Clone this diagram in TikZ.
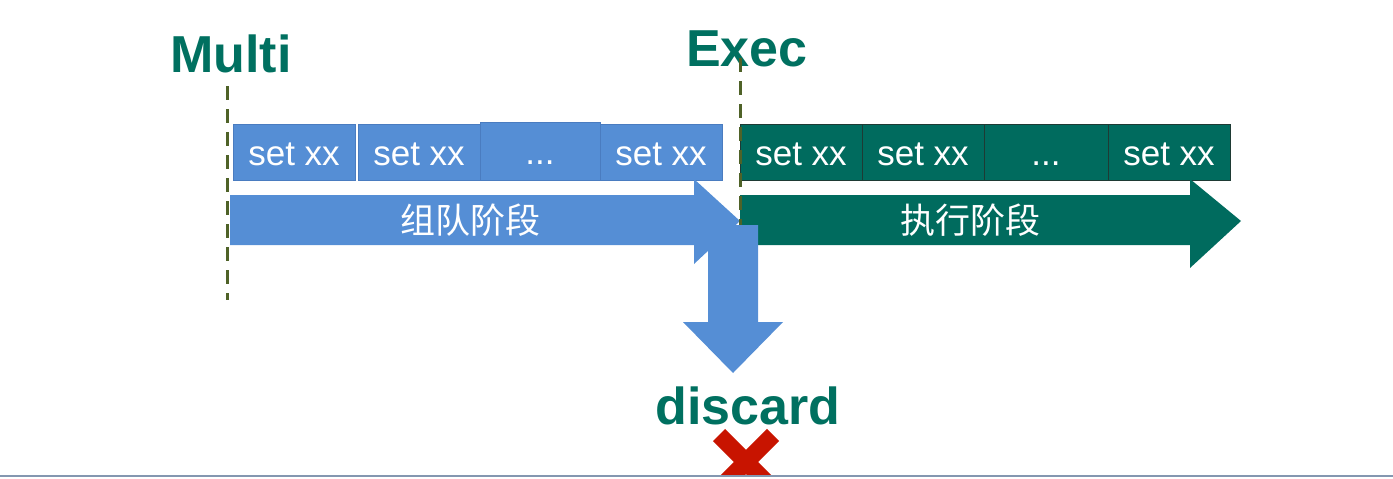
\documentclass[tikz,border=0pt]{standalone}
\usepackage{fontspec}
\setmainfont{Liberation Sans}
\newfontfamily\cjk{Noto Sans CJK SC}
\usepackage{tikz}
\usetikzlibrary{positioning}
\definecolor{qBlue}{HTML}{558ED5}
\definecolor{qEdge}{HTML}{4A7CC0}
\definecolor{run}{HTML}{006B5E}
\definecolor{runEdge}{HTML}{1E3A34}
\definecolor{title}{HTML}{007060}
\definecolor{mark}{HTML}{4F6228}
\definecolor{cross}{HTML}{C81400}
\definecolor{rule}{HTML}{8497B0}
\tikzset{queued/.style={draw=qEdge,fill=qBlue,line width=0.8pt,minimum width=122pt,minimum height=56pt,inner sep=0pt,
    text height=26pt,text depth=0pt,text=white,font=\fontsize{35}{35}\selectfont},
  running/.style={queued,draw=runEdge,fill=run},
  heading/.style={text=title,font=\fontsize{52}{52}\selectfont\bfseries,inner sep=0pt},
  phase/.style={text=white,font=\fontsize{35}{35}\selectfont\cjk,inner sep=0pt},
  border/.style={draw=mark,line width=3pt,dash pattern=on 14pt off 9pt}}

\begin{document}
\begin{tikzpicture}[x=1pt,y=-1pt]
  \useasboundingbox (0,0) rectangle (1393,479);
  \node[queued] (q1) at (294,152) {set xx};
  \node[queued] (q2) at (419,152) {set xx};
  \node[queued,minimum width=120pt,minimum height=58pt] (q3) at (540,151) {...};
  \node[queued] (q4) at (661,152.5) {set xx};
  \node[running] (r1) at (801,152) {set xx};
  \node[running] (r2) at (923,152) {set xx};
  \node[running,minimum width=124pt] (r3) at (1046,152) {...};
  \node[running] (r4) at (1169,152) {set xx};
  \fill[qBlue] (230,195)--(694,195)--(694,179)--(740,221)--(694,264)--(694,245)--(230,245)--cycle;
  \fill[run] (740,195)--(1190,195)--(1190,179)--(1241,221)--(1190,268)--(1190,245)--(740,245)--cycle;
  \node[phase] (queue) at (470,220) {组队阶段};
  \node[phase] (exec) at (970,220) {执行阶段};
  \node[heading,anchor=base west] (multi) at (170,72) {Multi};
  \node[heading,anchor=base west] (execw) at (686,66) {Exec};
  \draw[border] (227,86)--(227,300);
  \draw[border] (740,58)--(740,226);
  \fill[qBlue] (708,225)--(758,225)--(758,322)--(783,322)--(733,373)--(683,322)--(708,322)--cycle;
  \node[heading,anchor=base] (discard) at (748,424) {discard};
  \begin{scope}
    \clip (690,420) rectangle (800,474);
    \draw[cross,line width=17pt] (719,435)--(777,493) (773,435)--(715,493);
  \end{scope}
  \draw[rule,line width=2pt] (0,475.5)--(1393,475.5);
\end{tikzpicture}
\end{document}
